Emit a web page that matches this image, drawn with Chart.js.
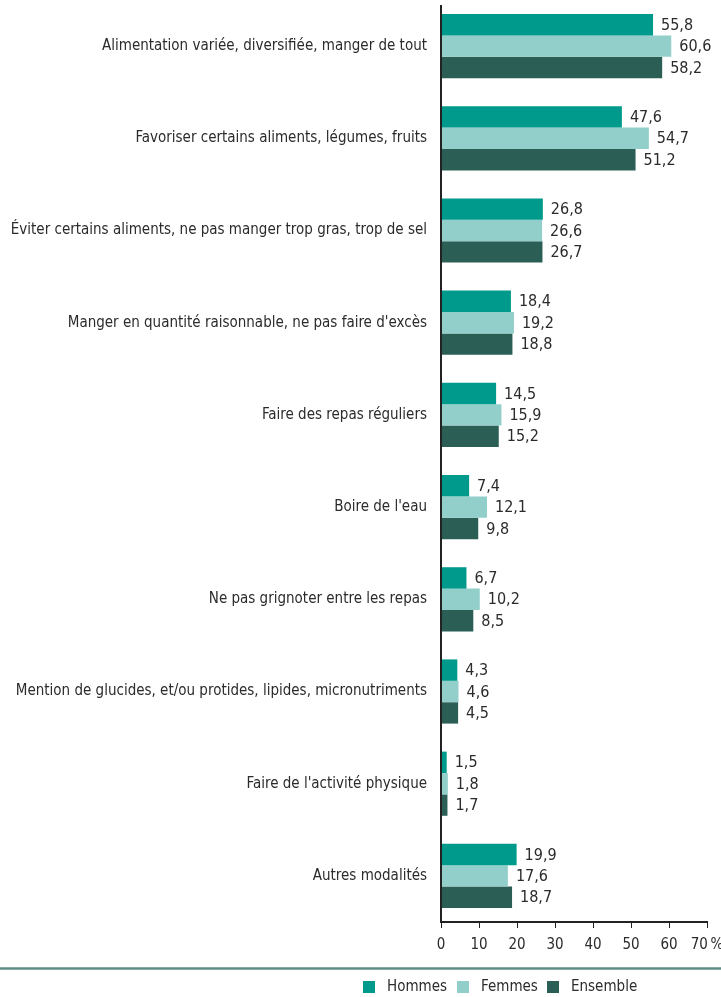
<!DOCTYPE html>
<html lang="fr">
<head>
<meta charset="utf-8">
<script src="https://cdn.jsdelivr.net/npm/chart.js@4.4.1/dist/chart.umd.min.js"></script>
<style>
  html, body { margin: 0; padding: 0; background: #fff; }
  #wrap { position: relative; width: 721px; height: 997px; }
</style>
</head>
<body>
<div id="wrap"><canvas id="chart"></canvas></div>
<script>
// ── Data ──
const categories = [
  'Alimentation variée, diversifiée, manger de tout',
  'Favoriser certains aliments, légumes, fruits',
  'Éviter certains aliments, ne pas manger trop gras, trop de sel',
  'Manger en quantité raisonnable, ne pas faire d\'excès',
  'Faire des repas réguliers',
  'Boire de l\'eau',
  'Ne pas grignoter entre les repas',
  'Mention de glucides, et/ou protides, lipides, micronutriments',
  'Faire de l\'activité physique',
  'Autres modalités'
];
const hommes   = [55.8, 47.6, 26.8, 18.4, 14.5, 7.4, 6.7, 4.3, 1.5, 19.9];
const femmes   = [60.6, 54.7, 26.6, 19.2, 15.9, 12.1, 10.2, 4.6, 1.8, 17.6];
const ensemble = [58.2, 51.2, 26.7, 18.8, 15.2, 9.8, 8.5, 4.5, 1.7, 18.7];
const xTicks = [0, 10, 20, 30, 40, 50, 60, 70];

const FONT = "'Liberation Sans Narrow', 'DejaVu Sans Condensed', sans-serif";
const TEXT = '#2b2b2b';

// value labels right of each bar + vertical axis line
const valueLabels = {
  id: 'valueLabels',
  afterDatasetsDraw(chart) {
    const ctx = chart.ctx;
    const area = chart.chartArea;
    ctx.save();
    ctx.strokeStyle = '#222';
    ctx.lineWidth = 2;
    ctx.beginPath();
    ctx.moveTo(area.left, area.top + 5);
    ctx.lineTo(area.left, area.bottom);
    ctx.stroke();

    ctx.font = '16px ' + FONT;
    ctx.fillStyle = TEXT;
    ctx.textAlign = 'left';
    ctx.textBaseline = 'middle';
    chart.data.datasets.forEach((ds, i) => {
      chart.getDatasetMeta(i).data.forEach((bar, j) => {
        const txt = ds.data[j].toFixed(1).replace('.', ',');
        ctx.fillText(txt, bar.x + 8, bar.y + 1);
      });
    });
    ctx.restore();
  }
};

// rule + legend at the bottom
const bottomLegend = {
  id: 'bottomLegend',
  afterDraw(chart) {
    const ctx = chart.ctx;
    ctx.save();
    ctx.strokeStyle = '#5e8d84';
    ctx.lineWidth = 2.5;
    ctx.beginPath();
    ctx.moveTo(0, 968.5);
    ctx.lineTo(chart.width, 968.5);
    ctx.stroke();

    ctx.font = '15px ' + FONT;
    ctx.textBaseline = 'middle';
    ctx.textAlign = 'left';
    const boxX = [363, 457, 547];
    const y = 987;
    chart.data.datasets.forEach((ds, i) => {
      ctx.fillStyle = ds.backgroundColor;
      ctx.fillRect(boxX[i], y - 6, 12, 12);
      ctx.fillStyle = TEXT;
      ctx.fillText(ds.label, boxX[i] + 24, y);
    });
    ctx.restore();
  }
};

const ctx = document.getElementById('chart').getContext('2d');
new Chart(ctx, {
  type: 'bar',
  data: {
    labels: categories,
    datasets: [
      { label: 'Hommes', data: hommes, backgroundColor: '#009a8c' },
      { label: 'Femmes', data: femmes, backgroundColor: '#92cfca' },
      { label: 'Ensemble', data: ensemble, backgroundColor: '#2b5f56' }
    ]
  },
  options: {
    indexAxis: 'y',
    responsive: true,
    maintainAspectRatio: false,
    animation: false,
    datasets: { bar: { categoryPercentage: 0.696, barPercentage: 1.0 } },
    layout: { padding: { top: 0, right: 0, left: 0, bottom: 35 } },
    plugins: {
      legend: { display: false },
      tooltip: { enabled: false }
    },
    scales: {
      x: {
        min: 0, max: 70,
        afterBuildTicks: axis => { axis.ticks = xTicks.map(v => ({ value: v })); },
        afterFit: axis => { axis.paddingLeft = 0; axis.paddingRight = 14; },
        ticks: {
          font: { family: FONT, size: 15 },
          color: TEXT,
          padding: 8,
          maxRotation: 0,
          minRotation: 0,
          autoSkip: false,
          callback: v => v === 70 ? '70\u202F%' : String(v)
        },
        grid: { drawOnChartArea: false, drawTicks: true, tickLength: 6, color: '#222', lineWidth: 1 },
        border: { color: '#222', width: 2 }
      },
      y: {
        afterFit: axis => { axis.width = 441; axis.paddingTop = 0; axis.paddingBottom = 0; },
        ticks: {
          font: { family: FONT, size: 15 },
          color: TEXT,
          padding: 14
        },
        grid: { display: false, drawTicks: false },
        border: { display: false }
      }
    }
  },
  plugins: [valueLabels, bottomLegend]
});
</script>
</body>
</html>
